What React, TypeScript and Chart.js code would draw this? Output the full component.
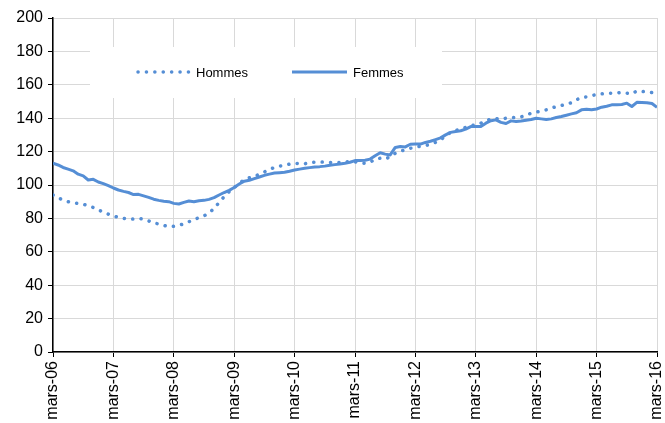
import React, { useEffect, useRef } from "react";
import { Chart, registerables } from "chart.js";

Chart.register(...registerables);

const tickLabels = [
  "mars-06", "mars-07", "mars-08", "mars-09", "mars-10", "mars-11",
  "mars-12", "mars-13", "mars-14", "mars-15", "mars-16",
];

const hommes = [
  94, 92.3, 91, 90, 89.3, 89, 88.5, 87.6, 86.5, 85, 83.8, 82.5,
  81.5, 80.6, 80, 79.5, 79.6, 80, 79.6, 78.5, 77.2, 76.7, 75.8, 75,
  75.3, 75.8, 76.8, 78, 79.3, 80.4, 81.5, 83.2, 86, 89.5, 93, 96,
  98.5, 101, 103.3, 104.3, 105, 106.5, 107.8, 109.3, 110.5, 111.3, 111.8, 112.5,
  113, 112.8, 112.7, 113.4, 113.7, 113.8, 113.6, 113.4, 113.4, 113.5, 113.8, 114,
  113.8, 113.3, 113, 113.6, 115.5, 116, 115.5, 117, 119, 120.3, 121, 122,
  122.6, 123.2, 123.6, 124.4, 125.5, 127, 129.5, 131.5, 132.6, 133.5, 134.5, 135.5,
  136, 137, 138.3, 139.6, 139.8, 139.3, 140, 140.4, 140.3, 140.8, 141.8, 143,
  143.6, 144.3, 145, 146, 147, 147.6, 148.3, 149.3, 151, 152.4, 152.8, 153.4,
  154.3, 154.6, 154.9, 154.9, 155, 155.5, 155, 154.6, 156.3, 156, 155.8, 155.3,
  154.8,
];

const femmes = [
  113, 112, 110.5, 109.5, 108.5, 106.5, 105.5, 103, 103.4, 101.8, 100.8, 99.6,
  98.2, 97, 96.2, 95.5, 94.3, 94.4, 93.5, 92.6, 91.5, 90.8, 90.3, 90,
  89, 88.6, 89.6, 90.4, 90, 90.6, 90.8, 91.4, 92.4, 94, 95.5, 96.8,
  98.5, 100.6, 102.3, 102.8, 103.8, 104.8, 105.8, 106.5, 107.2, 107.4, 107.6, 108.2,
  109, 109.5, 110, 110.4, 110.8, 111, 111.3, 111.8, 112.2, 112.6, 113, 113.6,
  114.6, 114.6, 114.8, 115.5, 117.5, 119.3, 118.5, 118, 122.5, 123, 122.8, 124.4,
  124.5, 124.5, 125.5, 126.2, 127.2, 128.2, 130, 131.5, 132, 132.5, 133.5, 135,
  135, 135, 137, 138.5, 139, 137.5, 136.8, 138.4, 138, 138.3, 138.8, 139.2,
  140, 139.6, 139.2, 139.6, 140.4, 141, 141.8, 142.6, 143.3, 145, 145.3, 145,
  145.5, 146.6, 147.2, 148, 148, 148.2, 149, 147, 149.5, 149.4, 149.3, 148.8,
  146.5,
];

const seriesNames = ["Hommes", "Femmes"];
const BLUE = "#558ed5";
const FONT = "'Liberation Sans', Arial, sans-serif";

const legendPlugin = {
  id: "insideLegend",
  beforeDatasetsDraw(chart: any) {
    const ctx = chart.ctx;
    ctx.save();
    ctx.fillStyle = "#ffffff";
    ctx.fillRect(90, 47, 352, 51);
    const y = 72;
    ctx.strokeStyle = BLUE;
    ctx.lineWidth = 3.5;
    ctx.lineCap = "round";
    ctx.setLineDash([0.1, 8.3]);
    ctx.beginPath();
    ctx.moveTo(138, y);
    ctx.lineTo(190, y);
    ctx.stroke();
    ctx.setLineDash([]);
    ctx.lineCap = "butt";
    ctx.lineWidth = 3;
    ctx.beginPath();
    ctx.moveTo(292, y);
    ctx.lineTo(347, y);
    ctx.stroke();
    ctx.fillStyle = "#000";
    ctx.font = `13px ${FONT}`;
    ctx.textBaseline = "middle";
    ctx.textAlign = "left";
    ctx.fillText(seriesNames[0], 196, y + 1);
    ctx.fillText(seriesNames[1], 353, y + 1);
    ctx.restore();
  },
};

export default function App() {
  const ref = useRef<HTMLCanvasElement>(null);
  useEffect(() => {
    document.body.style.margin = "0";
    const toPts = (arr: number[]) => arr.map((v, i) => ({ x: i, y: v }));
    const chart = new Chart(ref.current!, {
      type: "line",
      data: {
        datasets: [
          {
            label: seriesNames[0],
            data: toPts(hommes),
            borderColor: BLUE,
            borderWidth: 3.5,
            borderDash: [0.1, 8.3],
            borderCapStyle: "round",
            pointRadius: 0,
            tension: 0,
          },
          {
            label: seriesNames[1],
            data: toPts(femmes),
            borderColor: BLUE,
            borderWidth: 3,
            borderJoinStyle: "round",
            pointRadius: 0,
            tension: 0,
          },
        ],
      },
      options: {
        animation: false,
        responsive: true,
        maintainAspectRatio: false,
        layout: { padding: { top: 18, right: 8, left: 0, bottom: 0 } },
        plugins: { legend: { display: false }, tooltip: { enabled: false } },
        scales: {
          x: {
            type: "linear",
            min: 0,
            max: 120,
            afterFit: (s: any) => {
              s.height = 71;
              s.paddingLeft = 0;
              s.paddingRight = 0;
            },
            ticks: {
              stepSize: 12,
              autoSkip: false,
              minRotation: 90,
              maxRotation: 90,
              padding: 4,
              color: "#000",
              font: { family: FONT, size: 16 },
              callback: (v: any) => tickLabels[Math.round(Number(v) / 12)] ?? "",
            },
            grid: { color: "#d9d9d9", lineWidth: 1, tickLength: 5, tickColor: "#000", drawTicks: true },
            border: { color: "#000", width: 1.5 },
          },
          y: {
            min: 0,
            max: 200,
            afterFit: (s: any) => {
              s.width = 53;
              s.paddingTop = 0;
              s.paddingBottom = 0;
            },
            ticks: {
              stepSize: 20,
              padding: 5,
              color: "#000",
              font: { family: FONT, size: 16 },
            },
            grid: { color: "#d9d9d9", lineWidth: 1, tickLength: 5, tickColor: "#000" },
            border: { color: "#000", width: 1.5 },
          },
        },
      },
      plugins: [legendPlugin],
    } as any);
    return () => chart.destroy();
  }, []);
  return (
    <div style={{ width: 665, height: 423, position: "relative" }}>
      <canvas ref={ref} />
    </div>
  );
}
